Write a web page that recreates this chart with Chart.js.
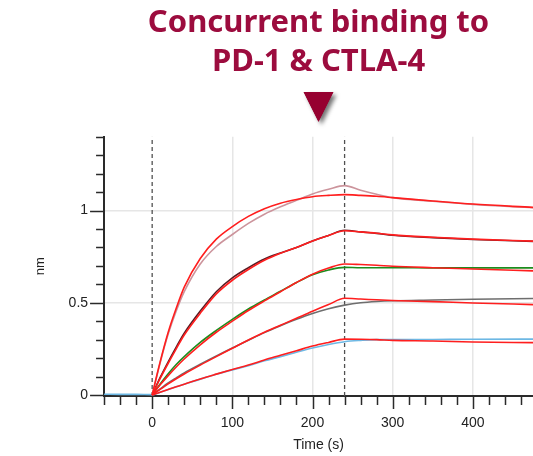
<!DOCTYPE html>
<html>
<head>
<meta charset="utf-8">
<script src="https://cdn.jsdelivr.net/npm/chart.js@4.4.1/dist/chart.umd.min.js"></script>
<style>
  html, body { margin: 0; padding: 0; background: #fff; }
  #wrap { width: 533px; height: 456px; }
</style>
</head>
<body>
<div id="wrap"><canvas id="kinChart"></canvas></div>
<script>
// time points (s)
var tBase = [-60, -40, -20, 0];
var tAssoc = [0, 10, 20, 30, 40, 60, 80, 100, 120, 140, 160, 180, 200, 220, 240];
var tDissoc = [260, 280, 300, 350, 400, 475];

// measured response (nm), association then dissociation
var baseLevel = [0.004, 0.003, 0.003, 0.002];
var data1 = [0, 0.175, 0.33, 0.455, 0.56, 0.71, 0.805, 0.87, 0.93, 0.98, 1.02, 1.055, 1.09, 1.115, 1.135,
             1.11, 1.088, 1.07, 1.05, 1.033, 1.015];
var data2 = [0, 0.095, 0.18, 0.26, 0.335, 0.455, 0.56, 0.635, 0.69, 0.737, 0.77, 0.80, 0.835, 0.865, 0.893,
             0.884, 0.876, 0.866, 0.853, 0.843, 0.833];
var data3 = [0, 0.06, 0.115, 0.165, 0.208, 0.285, 0.35, 0.41, 0.466, 0.515, 0.562, 0.61, 0.652, 0.678, 0.692,
             0.69, 0.69, 0.69, 0.689, 0.689, 0.689];
var data4 = [0, 0.033, 0.065, 0.093, 0.12, 0.167, 0.212, 0.255, 0.297, 0.338, 0.375, 0.41, 0.442, 0.468, 0.487,
             0.50, 0.507, 0.511, 0.515, 0.519, 0.523];
var data5 = [0, 0.015, 0.03, 0.044, 0.058, 0.086, 0.112, 0.136, 0.159, 0.185, 0.208, 0.232, 0.255, 0.274, 0.289,
             0.296, 0.30, 0.30, 0.301, 0.302, 0.303];

// fitted curves
var fit1 = [0, 0.18, 0.34, 0.47, 0.585, 0.74, 0.845, 0.913, 0.968, 1.01, 1.04, 1.06, 1.075, 1.082, 1.086,
            1.082, 1.077, 1.07, 1.052, 1.035, 1.017];
var fit2 = [0, 0.09, 0.172, 0.25, 0.325, 0.443, 0.548, 0.622, 0.68, 0.73, 0.768, 0.80, 0.835, 0.865, 0.89,
            0.884, 0.877, 0.868, 0.855, 0.845, 0.834];
var fit3 = [0, 0.055, 0.105, 0.152, 0.195, 0.272, 0.34, 0.40, 0.458, 0.51, 0.56, 0.61, 0.655, 0.688, 0.71,
            0.707, 0.703, 0.698, 0.69, 0.683, 0.673];
var fit4 = [0, 0.03, 0.06, 0.088, 0.114, 0.162, 0.208, 0.253, 0.298, 0.34, 0.378, 0.416, 0.454, 0.49, 0.524,
            0.52, 0.516, 0.512, 0.506, 0.499, 0.49];
var fit5 = [0, 0.015, 0.03, 0.045, 0.058, 0.087, 0.113, 0.138, 0.162, 0.19, 0.215, 0.24, 0.265, 0.285, 0.303,
            0.302, 0.30, 0.296, 0.293, 0.287, 0.284];

// step markers (injection start / dissociation start)
var markerTimes = [0, 240];

var xMajor = [0, 100, 200, 300, 400];
var yMajor = [0, 0.5, 1];

var tAll = tAssoc.concat(tDissoc);

function pts(times, vals) {
  return times.map(function(t, i) { return { x: t, y: vals[i] }; });
}

function curve(vals, color, width, order) {
  return {
    data: pts(tAll, vals),
    borderColor: color,
    borderWidth: width,
    pointRadius: 0,
    cubicInterpolationMode: 'monotone',
    order: order
  };
}

var datasets = [
  curve(fit1, '#ff1e1e', 1.6, 1),
  curve(fit2, '#ff1e1e', 1.6, 1),
  curve(fit3, '#ff1e1e', 1.6, 1),
  curve(fit4, '#ff1e1e', 1.6, 1),
  curve(fit5, '#ff1e1e', 1.6, 1),
  curve(data1, '#cc949c', 1.6, 2),
  curve(data2, '#5a1c24', 1.6, 2),
  curve(data3, '#1d8c1d', 1.6, 2),
  curve(data4, '#6e6e6e', 1.6, 2),
  {
    data: pts(tBase, baseLevel).concat(pts(tAll, data5)),
    borderColor: '#6db8e4',
    borderWidth: 1.6,
    pointRadius: 0,
    cubicInterpolationMode: 'monotone',
    order: 2
  }
];

markerTimes.forEach(function(t) {
  datasets.push({
    data: [{ x: t, y: -0.005 }, { x: t, y: 1.4 }],
    borderColor: '#505050',
    borderWidth: 1.3,
    borderDash: [4, 3],
    pointRadius: 0,
    order: 3
  });
});

function isMajor(list, v) {
  return list.some(function(m) { return Math.abs(m - v) < 1e-6; });
}

// major/minor tick marks drawn outside the axes
var tickMarks = {
  id: 'tickMarks',
  afterDraw: function(chart) {
    var ctx = chart.ctx, xs = chart.scales.x, ys = chart.scales.y;
    ctx.save();
    ctx.strokeStyle = '#2a2a2a';
    ctx.lineWidth = 1.5;
    ctx.beginPath();
    xs.ticks.forEach(function(t) {
      var px = Math.round(xs.getPixelForValue(t.value)) + 0.5;
      var len = isMajor(xMajor, t.value) ? 13 : 9;
      ctx.moveTo(px, xs.top);
      ctx.lineTo(px, xs.top + len);
    });
    ys.ticks.forEach(function(t) {
      var py = Math.round(ys.getPixelForValue(t.value)) + 0.5;
      var len = isMajor(yMajor, t.value) ? 14 : 8;
      ctx.moveTo(ys.right, py);
      ctx.lineTo(ys.right - len, py);
    });
    ctx.stroke();
    ctx.restore();
  }
};

// soft drop shadow behind the arrow glyph in the subtitle
var arrowShadow = {
  id: 'arrowShadow',
  beforeDraw: function(chart) {
    var box = chart.boxes.filter(function(b) { return b.options && b.options.text === '▼'; })[0];
    if (!box) return;
    var ctx = chart.ctx;
    ctx.save();
    ctx.font = '39px "DejaVu Sans"';
    ctx.textAlign = 'center';
    ctx.textBaseline = 'middle';
    ctx.fillStyle = '#960030';
    ctx.shadowColor = 'rgba(0,0,0,0.55)';
    ctx.shadowBlur = 4;
    ctx.shadowOffsetX = 3;
    ctx.shadowOffsetY = 3;
    ctx.fillText('▼', (box.left + box.right) / 2, box.top + 6 + 19.5);
    ctx.restore();
  }
};

var config = {
  type: 'line',
  data: { datasets: datasets },
  plugins: [tickMarks, arrowShadow],
  options: {
    responsive: true,
    maintainAspectRatio: false,
    animation: false,
    layout: { padding: 0 },
    plugins: {
      legend: { display: false },
      tooltip: { enabled: false },
      title: {
        display: true,
        fullSize: false,
        text: ['Concurrent binding to', 'PD-1 & CTLA-4'],
        color: '#9c0c3e',
        font: { family: 'Noto Sans', size: 31, weight: 'bold', lineHeight: 1.27 },
        padding: { top: 3, bottom: 0 }
      },
      subtitle: {
        display: true,
        fullSize: false,
        text: '▼',
        color: '#960030',
        font: { family: 'DejaVu Sans', size: 39, lineHeight: 1 },
        padding: { top: 6, bottom: 10 }
      }
    },
    scales: {
      x: {
        type: 'linear',
        min: -60,
        max: 475,
        afterBuildTicks: function(scale) {
          var ticks = [];
          for (var v = -60; v <= 460; v += 20) ticks.push({ value: v });
          scale.ticks = ticks;
        },
        ticks: {
          autoSkip: false,
          maxRotation: 0,
          padding: 2,
          color: '#222',
          font: { family: 'Liberation Sans', size: 14 },
          callback: function(v) { return isMajor(xMajor, v) ? String(v) : ''; }
        },
        grid: {
          drawTicks: true,
          tickLength: 17,
          tickColor: 'rgba(0,0,0,0)',
          lineWidth: 1.5,
          color: function(c) {
            return c.tick && isMajor(xMajor, c.tick.value) && c.tick.value !== 0 ? '#e6e6e6' : 'rgba(0,0,0,0)';
          }
        },
        border: { color: '#2a2a2a', width: 2 },
        title: {
          display: true,
          text: 'Time (s)',
          color: '#222',
          font: { family: 'Liberation Sans', size: 14 },
          padding: { top: 3, bottom: 2.5 }
        }
      },
      y: {
        type: 'linear',
        min: -0.005,
        max: 1.4,
        afterBuildTicks: function(scale) {
          var ticks = [];
          for (var i = 0; i <= 14; i++) ticks.push({ value: i / 10 });
          scale.ticks = ticks;
        },
        ticks: {
          autoSkip: false,
          padding: 2,
          color: '#222',
          font: { family: 'Liberation Sans', size: 14 },
          callback: function(v) { return isMajor(yMajor, v) ? String(v) : ''; }
        },
        grid: {
          drawTicks: true,
          tickLength: 14,
          tickColor: 'rgba(0,0,0,0)',
          lineWidth: 1.5,
          color: function(c) {
            return c.tick && isMajor(yMajor, c.tick.value) && c.tick.value !== 0 ? '#e6e6e6' : 'rgba(0,0,0,0)';
          }
        },
        border: { color: '#2a2a2a', width: 2 },
        title: {
          display: true,
          text: 'nm',
          color: '#222',
          font: { family: 'Liberation Sans', size: 13 },
          padding: { top: 33, bottom: 18 }
        }
      }
    }
  }
};

var kinChart = new Chart(document.getElementById('kinChart'), config);
</script>
</body>
</html>
